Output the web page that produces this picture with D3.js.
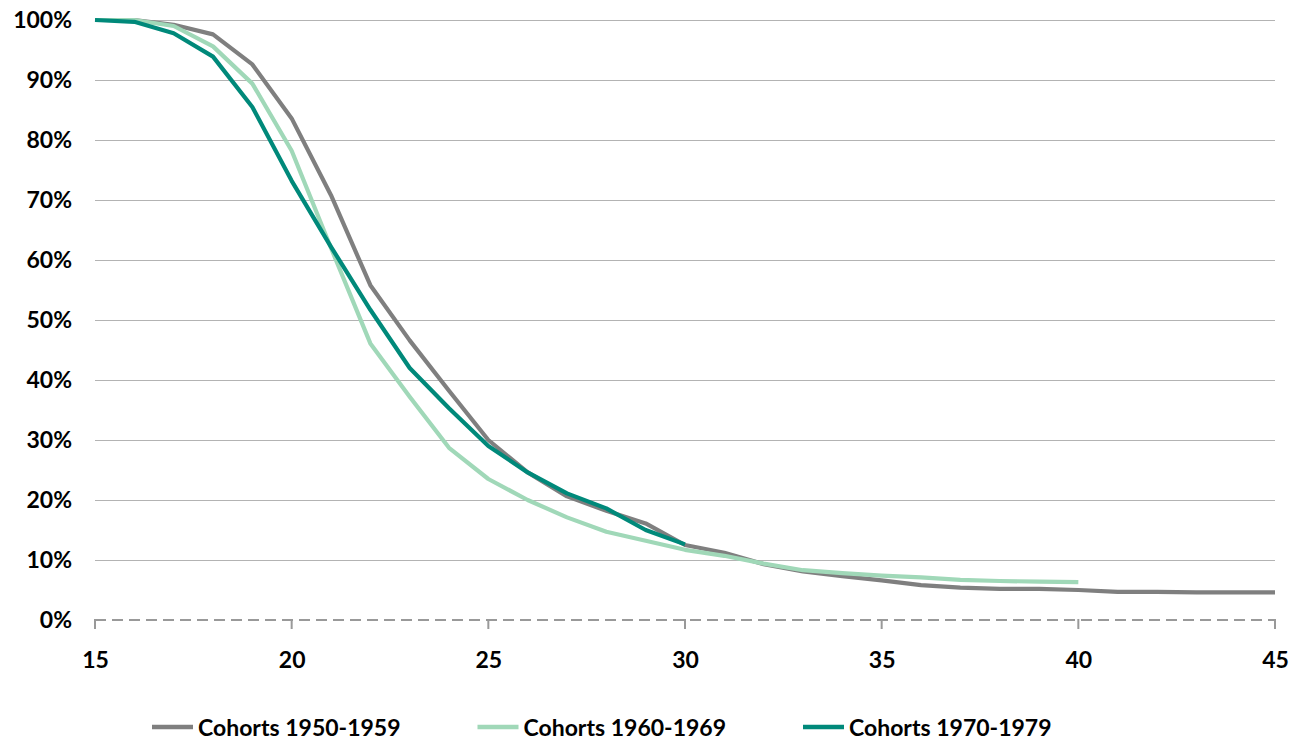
<!DOCTYPE html>
<html>
<head>
<meta charset="utf-8">
<script src="https://cdn.jsdelivr.net/npm/d3@7/dist/d3.min.js"></script>
<style>
  html, body { margin: 0; padding: 0; background: #fff; }
  svg { display: block; }
  text { font-family: Lato, "Liberation Sans", Arial, sans-serif; font-weight: 700; fill: #000; }
</style>
</head>
<body>
<svg id="chart" width="1303" height="742"></svg>
<script>
// Share of each cohort still living in the parental home, by age (%)
const ages1950 = d3.range(15, 46);
const cohort1950 = [100, 100, 99.2, 97.6, 92.6, 83.6, 70.8, 55.8, 46.6, 38.2, 30.0,
                    24.6, 20.6, 18.2, 16.1, 12.5, 11.2, 9.3, 8.1, 7.3, 6.6,
                    5.8, 5.4, 5.2, 5.2, 5.0, 4.7, 4.7, 4.6, 4.6, 4.6];

const ages1960 = d3.range(15, 41);
const cohort1960 = [100, 100, 99.0, 95.6, 89.4, 78.2, 62.0, 46.1, 37.2, 28.7, 23.5,
                    20.0, 17.1, 14.7, 13.2, 11.7, 10.7, 9.4, 8.3, 7.8, 7.4,
                    7.1, 6.7, 6.5, 6.4, 6.3];

const ages1970 = d3.range(15, 31);
const cohort1970 = [100, 99.7, 97.8, 93.9, 85.5, 73.2, 62.2, 51.7, 42.0, 35.3, 29.0,
                    24.6, 21.1, 18.6, 15.0, 12.6];

const seriesNames = ["Cohorts 1950-1959", "Cohorts 1960-1969", "Cohorts 1970-1979"];
const seriesColors = ["#7f7f7f", "#a0d8b8", "#00897a"];

const xTicks = [15, 20, 25, 30, 35, 40, 45];
const yTicks = [0, 10, 20, 30, 40, 50, 60, 70, 80, 90, 100];

const series = [
  { name: seriesNames[0], color: seriesColors[0], ages: ages1950, values: cohort1950 },
  { name: seriesNames[1], color: seriesColors[1], ages: ages1960, values: cohort1960 },
  { name: seriesNames[2], color: seriesColors[2], ages: ages1970, values: cohort1970 }
];

const svg = d3.select("#chart");
const margin = { left: 95, right: 28, top: 20, bottom: 122 };
const W = 1303, H = 742;

const x = d3.scaleLinear().domain([15, 45]).range([margin.left, W - margin.right]);
const y = d3.scaleLinear().domain([0, 100]).range([H - margin.bottom, margin.top]);

// horizontal gridlines (all but the baseline)
svg.append("g")
  .selectAll("line")
  .data(yTicks.filter(d => d > 0))
  .join("line")
  .attr("x1", x(15)).attr("x2", x(45))
  .attr("y1", d => Math.round(y(d)) + 0.5).attr("y2", d => Math.round(y(d)) + 0.5)
  .attr("stroke", "#b3b3b3").attr("stroke-width", 1.2);

// y labels
const yAxis = d3.axisLeft(y).tickValues(yTicks).tickFormat(d => d + "%").tickSize(0).tickPadding(23);
const gy = svg.append("g").attr("transform", `translate(${margin.left},0)`).call(yAxis);
gy.select(".domain").remove();
gy.selectAll("text").style("font-size", "23px").attr("font-family", null);

// x axis: dashed baseline with downward ticks
const xAxis = d3.axisBottom(x).tickValues(xTicks).tickSize(0).tickPadding(32);
const gx = svg.append("g").attr("transform", `translate(0,${y(0)})`).call(xAxis);
gx.select(".domain").remove();
gx.selectAll("text").style("font-size", "23px").attr("font-family", null);

svg.append("line")
  .attr("x1", x(15)).attr("x2", x(45))
  .attr("y1", y(0)).attr("y2", y(0))
  .attr("stroke", "#999").attr("stroke-width", 2)
  .attr("stroke-dasharray", "11,6");

svg.append("g")
  .selectAll("line")
  .data(xTicks)
  .join("line")
  .attr("x1", d => x(d)).attr("x2", d => x(d))
  .attr("y1", y(0) - 1).attr("y2", y(0) + 9)
  .attr("stroke", "#999").attr("stroke-width", 2);

// series lines
const line = d3.line()
  .x(d => x(d[0]))
  .y(d => y(d[1]));

svg.append("g")
  .selectAll("path")
  .data(series)
  .join("path")
  .attr("d", s => line(s.ages.map((a, i) => [a, s.values[i]])))
  .attr("fill", "none")
  .attr("stroke", s => s.color)
  .attr("stroke-width", 4.2)
  .attr("stroke-linejoin", "round");

// legend
const legend = svg.append("g").attr("transform", "translate(152,727)");
const item = legend.selectAll("g")
  .data(series)
  .join("g")
  .attr("transform", (d, i) => `translate(${i * 325.5},0)`);
item.append("line")
  .attr("x1", 0).attr("x2", 41)
  .attr("y1", 0).attr("y2", 0)
  .attr("stroke", d => d.color).attr("stroke-width", 4.5);
item.append("text")
  .attr("x", 46).attr("y", 9)
  .style("font-size", "23px")
  .text(d => d.name);
</script>
</body>
</html>
